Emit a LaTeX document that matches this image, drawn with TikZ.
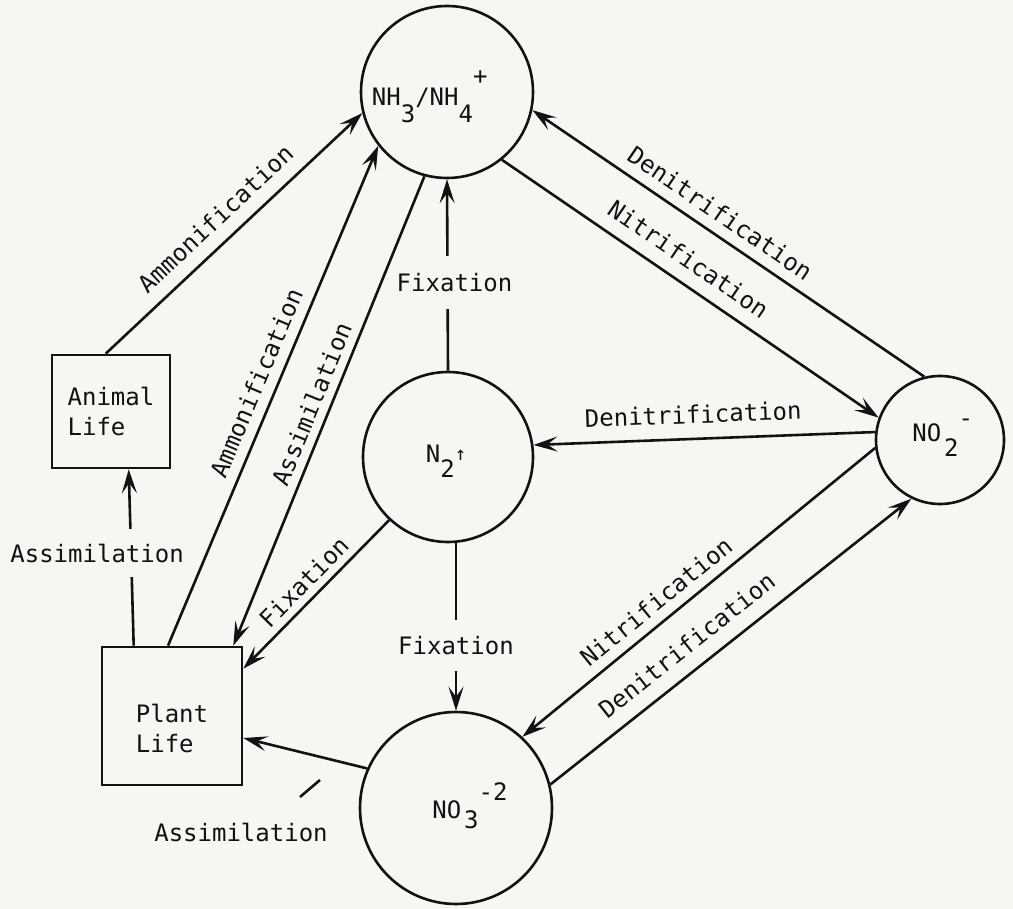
\documentclass[tikz,border=0pt]{standalone}
\usepackage{fontspec}
\setmonofont{DejaVu Sans Mono}
\usetikzlibrary{arrows.meta,calc}
\definecolor{paper}{RGB}{246,246,243}
\definecolor{ink}{RGB}{18,18,18}
\newcommand{\twf}{\ttfamily\fontsize{24}{30}\selectfont}
\begin{document}
\begin{tikzpicture}[x=1pt,y=-1pt,line width=2.6pt,color=ink,
  circ/.style={circle,draw,minimum size=#1,inner sep=0pt},
  box/.style={rectangle,draw,inner sep=0pt},
  arr/.style={-{Stealth[length=24pt,width=15pt,inset=10pt]}},
  lbl/.style={font=\twf,inner sep=0pt,sloped},
  txt/.style={font=\twf,inner sep=0pt},
  gap/.style={font=\twf,fill=paper,inner xsep=2pt}]
\fill[paper] (0,0) rectangle (1013,909);
\useasboundingbox (0,0) rectangle (1013,909);
% nodes
\node[circ=172pt] (nh3) at (447,92) {};
\node[circ=170pt] (n2) at (448,457) {};
\node[circ=128pt] (no2) at (940,440) {};
\node[circ=192pt] (no3) at (456,808) {};
\node[box,minimum width=118pt,minimum height=113pt,font=\twf,align=left] (animal) at (111,411.5) {Animal\\Life};
\node[box,minimum width=140pt,minimum height=138pt] (plant) at (172,716) {};
\node[txt,align=left] (plantt) at (172,728) {Plant\\Life};
% circle texts
\node[txt,anchor=base west] (nh3t) at (370.6,106) {NH\raisebox{-17pt}{3}/NH\raisebox{-17pt}{4}\raisebox{21pt}{+}};
\node[txt,anchor=base west] (n2t) at (424.6,463) {N\raisebox{-15pt}{2}\raisebox{2pt}{\fontsize{19}{19}\selectfont ↑}};
\node[txt,anchor=base west] (no2t) at (911,442) {NO\hspace{3pt}\raisebox{-15pt}{2}\raisebox{15pt}{-}};
\node[txt,anchor=base west] (no3t) at (431,818) {NO\hspace{3pt}\raisebox{-10pt}{3}\raisebox{18pt}{-2}};
% connectors
\draw[arr] ([xshift=55pt]animal.north west) -- (nh3.-166)
  node[lbl,above=13pt,pos=0.49] (l1) {Ammonification};
\draw[arr] ([xshift=-4pt]plant.north) -- (nh3.218)
  node[lbl,above=10pt,pos=0.51] (l2) {Ammonification};
\draw[arr] (nh3.255) -- ([xshift=-10pt]plant.north east)
  node[lbl,above=8pt,pos=0.5] (l3) {Assimilation};
\draw[arr] (n2.north) -- (nh3.south)
  node[gap,pos=0.46,xshift=7pt,inner ysep=17pt] (l4) {Fixation};
\draw[arr] (no3.north |- n2.south) -- (no3.north)
  node[gap,pos=0.61,inner ysep=16pt] (l5) {Fixation};
\draw[arr] (n2.227) -- ([yshift=-23pt]plant.north east)
  node[lbl,above=7pt,pos=0.5] (l6) {Fixation};
\draw[arr] (no3.156) -- ([yshift=-22pt]plant.east);
\node[txt] (l7) at (241,832) {Assimilation};
\draw (300,797) -- (320,780);
\draw[arr] ([xshift=33pt]plant.north west) -- ([xshift=78pt]animal.south west)
  node[gap,pos=0.525,xshift=-34pt,inner ysep=14.5pt] (l8) {Assimilation};
\draw[arr] (nh3.-51) -- (no2.160)
  node[lbl,above=13pt,pos=0.46] (l9) {Nitrification};
\draw[arr] (no2.104) -- (nh3.-12)
  node[lbl,above=10pt,pos=0.55] (l10) {Denitrification};
\draw[arr] (no2.173) -- (n2.8)
  node[lbl,above=14pt,pos=0.53] (l11) {Denitrification};
\draw[arr] (no2.187) -- (no3.47)
  node[lbl,above=9.5pt,pos=0.585] (l12) {Nitrification};
\draw[arr] (no3.14) -- (no2.244)
  node[lbl,above=14pt,pos=0.42] (l13) {Denitrification};
\end{tikzpicture}
\end{document}
